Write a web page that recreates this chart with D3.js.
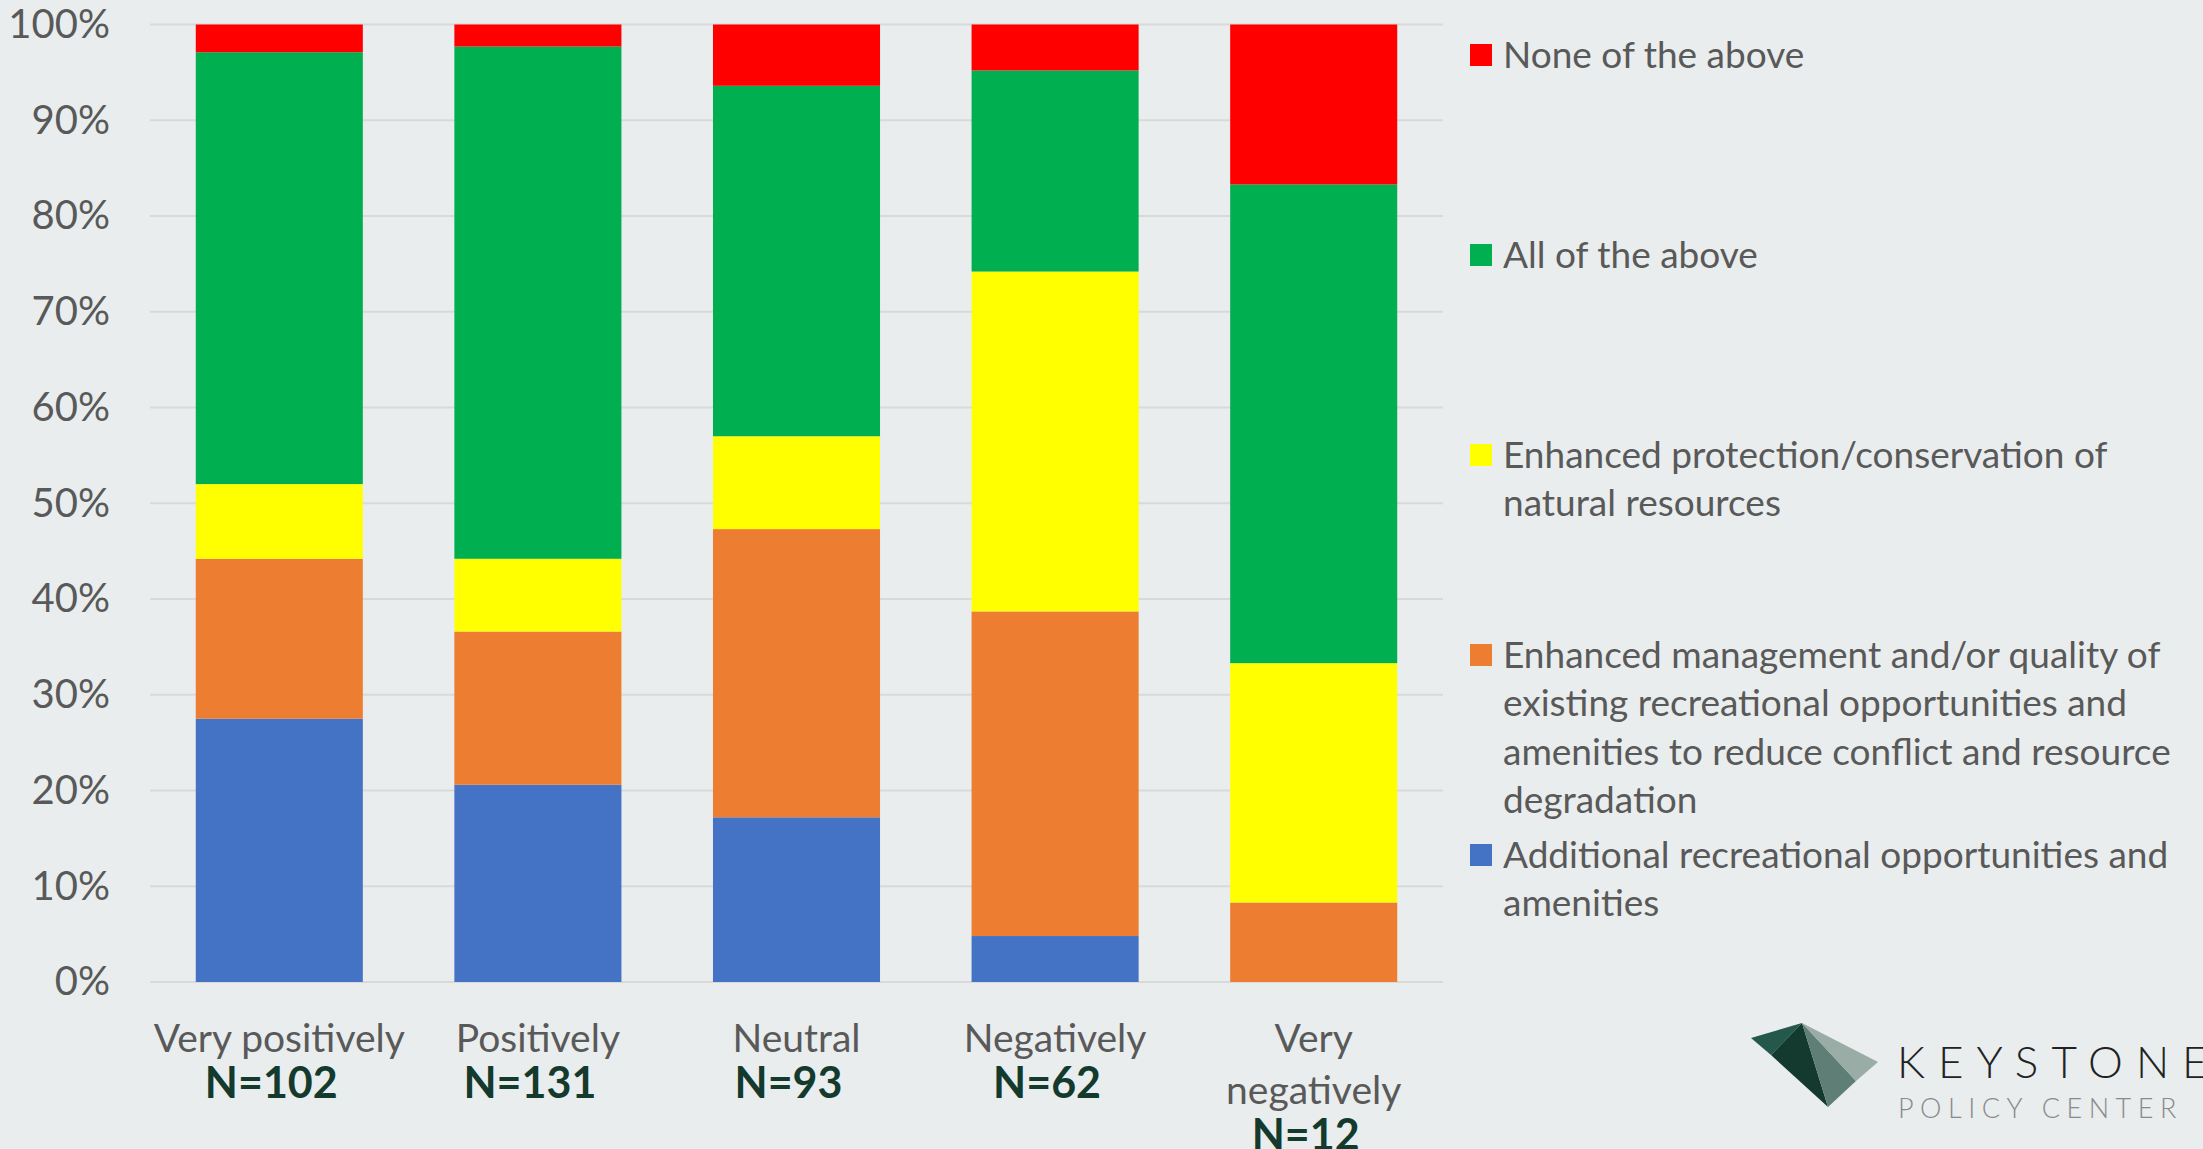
<!DOCTYPE html>
<html>
<head>
<meta charset="utf-8">
<script src="https://cdn.jsdelivr.net/npm/d3@7"></script>
<style>
  html, body { margin: 0; padding: 0; background: #e9edee; }
  svg { display: block; }
  text { font-family: Lato, "Noto Sans", sans-serif; }
</style>
</head>
<body>
<script>
// categories along the x axis, with their sample sizes
const categories = ["Very positively", "Positively", "Neutral", "Negatively", "Very negatively"];
const categoryLines = [["Very positively"], ["Positively"], ["Neutral"], ["Negatively"], ["Very", "negatively"]];
const sampleSizes = ["N=102", "N=131", "N=93", "N=62", "N=12"];

// percent of respondents per answer (stacked bottom -> top)
const additional = [27.5, 20.6, 17.2, 4.8, 0];
const management = [16.7, 16.0, 30.1, 33.9, 8.3];
const protection = [7.8, 7.6, 9.7, 35.5, 25.0];
const allAbove   = [45.1, 53.5, 36.6, 21.0, 50.0];
const noneAbove  = [2.9, 2.3, 6.4, 4.8, 16.7];

const seriesKeys = ["additional", "management", "protection", "allAbove", "noneAbove"];
const seriesColors = ["#4472c4", "#ed7d31", "#ffff00", "#00b050", "#ff0000"];

// legend text, top to bottom, already wrapped like the original
const legendLabels = [
    ["None of the above"],
    ["All of the above"],
    ["Enhanced protection/conservation of", "natural resources"],
    ["Enhanced management and/or quality of", "existing recreational opportunities and", "amenities to reduce conflict and resource", "degradation"],
    ["Additional recreational opportunities and", "amenities"]
];
const legendColors = ["#ff0000", "#00b050", "#ffff00", "#ed7d31", "#4472c4"];

const yTicks = [0, 10, 20, 30, 40, 50, 60, 70, 80, 90, 100];

const width = 2203, height = 1149;
const margin = {left: 150, right: 760, top: 24.5, bottom: 167};

let rows = categories.map(function(c, i) {
    return {
        category: c,
        additional: additional[i],
        management: management[i],
        protection: protection[i],
        allAbove: allAbove[i],
        noneAbove: noneAbove[i]
    };
});

let svg = d3.select("body").append("svg")
    .attr("width", width)
    .attr("height", height);

svg.append("rect")
    .attr("width", width)
    .attr("height", height)
    .attr("fill", "#e9edee");

let x = d3.scaleBand()
    .domain(categories)
    .range([margin.left, width - margin.right])
    .paddingInner(0.354)
    .paddingOuter(0.177);

let y = d3.scaleLinear()
    .domain([0, 100])
    .range([height - margin.bottom, margin.top]);

// gridlines
svg.append("g")
    .selectAll("line")
    .data(yTicks)
    .enter()
    .append("line")
    .attr("x1", margin.left)
    .attr("x2", width - margin.right)
    .attr("y1", d => y(d))
    .attr("y2", d => y(d))
    .attr("stroke", "#d9d9d9")
    .attr("stroke-width", 2);

// y axis labels
let yAxis = svg.append("g")
    .attr("transform", "translate(" + (margin.left - 40) + ",0)")
    .call(d3.axisLeft(y).tickValues(yTicks).tickFormat(d => d + "%").tickSize(0).tickPadding(0));
yAxis.select(".domain").remove();
yAxis.selectAll("text")
    .attr("fill", "#595959")
    .style("font-size", "40px")
    .style("font-family", "Lato, 'Noto Sans', sans-serif");

// stacked bars
let stacked = d3.stack().keys(seriesKeys)(rows);

let layers = svg.append("g")
    .selectAll("g")
    .data(stacked)
    .enter()
    .append("g")
    .attr("fill", (d, i) => seriesColors[i]);

layers.selectAll("rect")
    .data(d => d)
    .enter()
    .append("rect")
    .attr("x", d => x(d.data.category))
    .attr("width", x.bandwidth())
    .attr("y", d => y(d[1]))
    .attr("height", d => y(d[0]) - y(d[1]));

// category labels (wrapped) and N labels
let labelTop = height - margin.bottom + 56;
let lineH = 52;

categories.forEach(function(c, i) {
    let cx = x(c) + x.bandwidth() / 2;
    let lines = categoryLines[i];
    let t = svg.append("text")
        .attr("text-anchor", "middle")
        .attr("fill", "#595959")
        .style("font-size", "39px");
    lines.forEach(function(l, j) {
        t.append("tspan")
            .attr("x", cx)
            .attr("y", labelTop + j * lineH)
            .attr("dy", "0.35em")
            .text(l);
    });
    svg.append("text")
        .attr("x", cx - 8)
        .attr("y", labelTop + (lines.length - 1) * lineH + 45)
        .attr("dy", "0.35em")
        .attr("text-anchor", "middle")
        .attr("fill", "#133a2d")
        .style("font-size", "43px")
        .style("font-weight", "bold")
        .text(sampleSizes[i]);
});

// legend
let legendX = 1470;
let legend = svg.append("g");
legendLabels.forEach(function(lines, i) {
    let ly = 55 + i * 200;
    legend.append("rect")
        .attr("x", legendX)
        .attr("y", ly - 11)
        .attr("width", 22)
        .attr("height", 22)
        .attr("fill", legendColors[i]);
    let t = legend.append("text")
        .attr("fill", "#595959")
        .style("font-size", "37px");
    lines.forEach(function(l, j) {
        t.append("tspan")
            .attr("x", legendX + 33)
            .attr("y", ly + j * 48.5)
            .attr("dy", "0.35em")
            .text(l);
    });
});

// Keystone Policy Center logo
let logo = svg.append("g");
let pTop = [1802, 1023], pLeft = [1751, 1038], pFold = [1771, 1055],
    pBottom = [1828, 1107], pRight = [1878, 1062], pMid = [1856, 1081];
let facets = [
    {pts: [pTop, pLeft, pFold], fill: "#24584a"},
    {pts: [pTop, pFold, pBottom], fill: "#143a2f"},
    {pts: [pTop, pBottom, pMid], fill: "#5f7f76"},
    {pts: [pTop, pMid, pRight], fill: "#99aca5"}
];
logo.selectAll("polygon")
    .data(facets)
    .enter()
    .append("polygon")
    .attr("points", d => d.pts.map(p => p.join(",")).join(" "))
    .attr("fill", d => d.fill);

logo.append("text")
    .attr("x", 1897)
    .attr("y", 1078)
    .attr("fill", "#222")
    .style("font-size", "44px")
    .style("font-weight", 300)
    .style("letter-spacing", "13px")
    .text("KEYSTONE");

logo.append("text")
    .attr("x", 1898)
    .attr("y", 1118)
    .attr("fill", "#8a8a8a")
    .style("font-size", "27px")
    .style("font-weight", 300)
    .style("letter-spacing", "6.5px")
    .text("POLICY CENTER");
</script>
</body>
</html>
